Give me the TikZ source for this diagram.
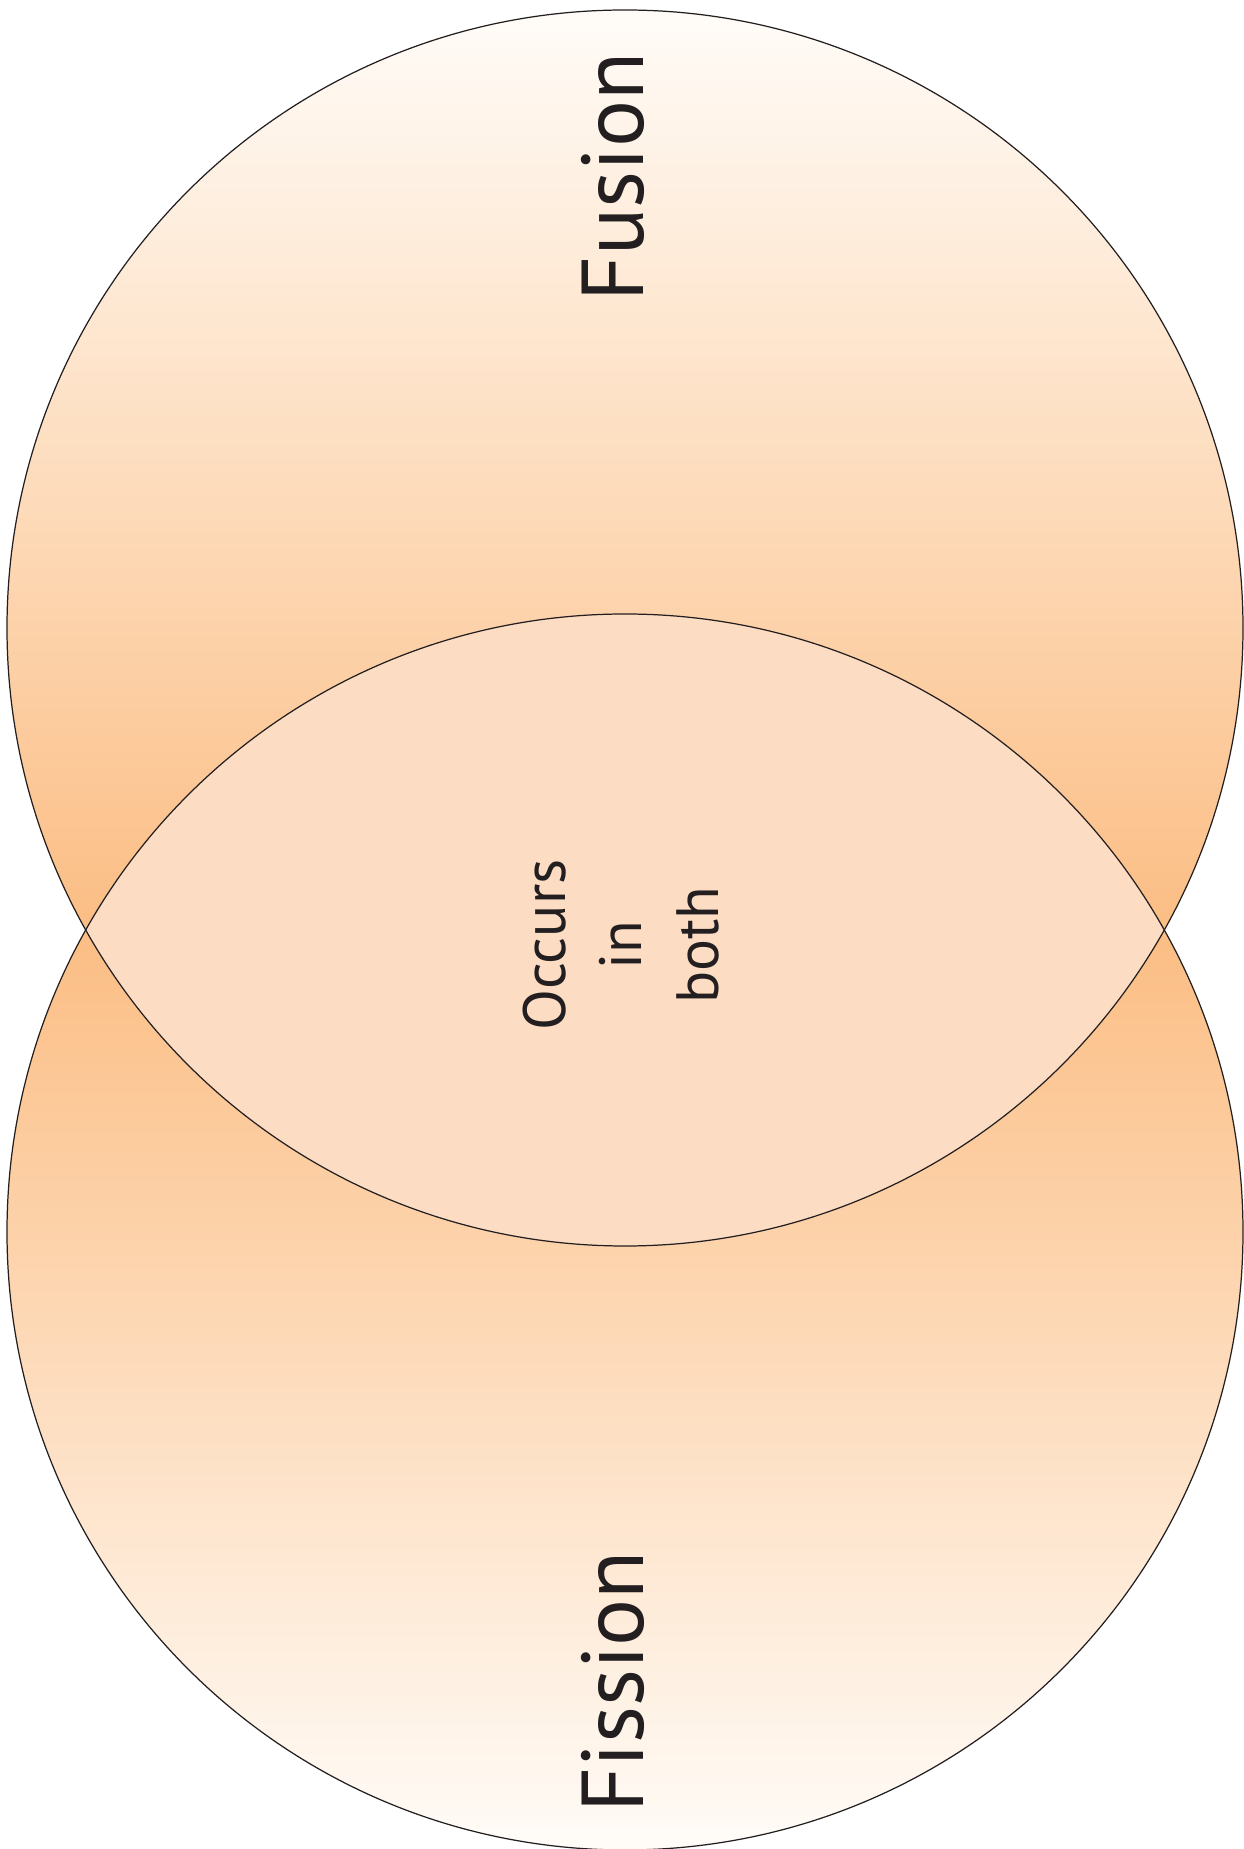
\documentclass[tikz,border=0pt]{standalone}
\usepackage{fontspec}
\setmainfont{PT Sans}
\usetikzlibrary{positioning}
\definecolor{vennpale}{HTML}{FFFCF8}
\definecolor{vennorange}{HTML}{FAA85C}
\definecolor{vennlens}{HTML}{FCDCC3}
\definecolor{vennline}{HTML}{231F20}
\tikzset{
  venn set/.style={circle, minimum size=12.36cm, inner sep=0},
  venn line/.style={draw=vennline, line width=0.35pt},
  venn lens/.style={fill=vennlens},
  lbl big/.style={font=\fontsize{25}{30}\selectfont, text=vennline, rotate=90, anchor=base, inner sep=0},
  lbl both/.style={font=\fontsize{17}{21.7}\selectfont, text=vennline, rotate=90, align=center, inner sep=0}
}

\begin{document}
\begin{tikzpicture}
\useasboundingbox (0,0) rectangle (12.43,18.49);

\node[venn set, top color=vennpale, bottom color=vennorange] (fusion) at (6.25,12.21) {};
\node[venn set, top color=vennorange, bottom color=vennpale] (fission) at (6.25,6.17) {};
\begin{scope}
  \clip (fusion.center) circle (6.18);
  \fill[venn lens] (fission.center) circle (6.18);
\end{scope}
\draw[venn line] (fusion.center) circle (6.18);
\draw[venn line] (fission.center) circle (6.18);

\node[lbl big] (fusionl) at (6.43,16.72) {Fusion};
\node[lbl big] (fissionl) at (6.43,1.67) {Fission};
\node[lbl both] (bothl) at (6.21,9.04) {Occurs\\in\\both};

\end{tikzpicture}
\end{document}
